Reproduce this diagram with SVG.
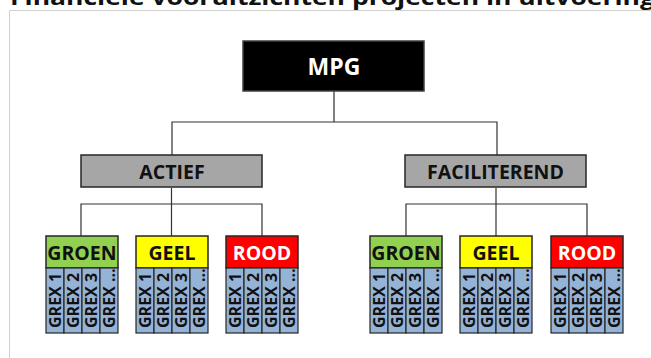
<svg xmlns="http://www.w3.org/2000/svg" width="651" height="358" viewBox="0 0 651 358">
<style>
  .lbl{font-family:"Open Sans","Noto Sans",sans-serif;font-weight:bold;text-anchor:middle}
  .grex{font-family:"Open Sans","Noto Sans",sans-serif;font-weight:bold;font-size:16px;fill:#111}
  .box{stroke:#262626;stroke-width:1.5}
  .col{fill:#95B3D7;stroke:#262626;stroke-width:1.2}
  .conn{stroke:#333;stroke-width:1.2;fill:none}
</style>
<defs>
  <g id="grexset">
    <rect class="col" x="0" y="0" width="18" height="65"/>
    <rect class="col" x="18" y="0" width="18" height="65"/>
    <rect class="col" x="36" y="0" width="18" height="65"/>
    <rect class="col" x="54" y="0" width="18" height="65"/>
    <text class="grex" transform="translate(14.5,60) rotate(-90)">GREX 1</text>
    <text class="grex" transform="translate(32.5,60) rotate(-90)">GREX 2</text>
    <text class="grex" transform="translate(50.5,60) rotate(-90)">GREX 3</text>
    <text class="grex" transform="translate(68.5,60) rotate(-90)">GREX …</text>
  </g>
</defs>
<rect x="0" y="0" width="651" height="358" fill="#fff"/>
<text x="10" y="5" font-family="'Open Sans','Noto Sans',sans-serif" font-weight="bold" font-size="22" fill="#111" textLength="645" lengthAdjust="spacingAndGlyphs">Financiële vooruitzichten projecten in uitvoering</text>
<path d="M9.5 358 V10.5 H651" fill="none" stroke="#d0d0d0" stroke-width="1"/>

<g id="connectors">
  <line x1="334" y1="91" x2="334" y2="122" stroke="#808080" stroke-width="2"/>
  <path class="conn" d="M172 155 V122 H497 V155"/>
  <path class="conn" d="M171.5 188 V236 M81 236 V204 H262 V236"/>
  <path class="conn" d="M496 188 V236 M406 236 V204 H587 V236"/>
</g>

<g id="mpg">
  <rect x="243" y="41" width="181" height="50" fill="#000" stroke="#404040" stroke-width="1.5"/>
  <text class="lbl" x="334" y="75" font-size="23" fill="#fff">MPG</text>
</g>
<g id="actief">
  <rect class="box" x="81" y="155" width="181" height="32" fill="#A6A6A6"/>
  <text class="lbl" x="172" y="179" font-size="19.5" fill="#111">ACTIEF</text>
</g>
<g id="faciliterend">
  <rect class="box" x="405" y="155" width="181" height="32" fill="#A6A6A6"/>
  <text class="lbl" x="495.5" y="179" font-size="19.5" fill="#111">FACILITEREND</text>
</g>

<g id="actief-groen">
  <rect class="box" x="46" y="236" width="72" height="32" fill="#92D050"/>
  <text class="lbl" x="82" y="260" font-size="19.5" fill="#111">GROEN</text>
  <use href="#grexset" x="46" y="268"/>
</g>
<g id="actief-geel">
  <rect class="box" x="136" y="236" width="72" height="32" fill="#FFFF00"/>
  <text class="lbl" x="172" y="260" font-size="19.5" fill="#111">GEEL</text>
  <use href="#grexset" x="136" y="268"/>
</g>
<g id="actief-rood">
  <rect class="box" x="226" y="236" width="72" height="32" fill="#FF0000"/>
  <text class="lbl" x="262" y="260" font-size="19.5" fill="#fff">ROOD</text>
  <use href="#grexset" x="226" y="268"/>
</g>

<g id="fac-groen">
  <rect class="box" x="370" y="236" width="72" height="32" fill="#92D050"/>
  <text class="lbl" x="406" y="260" font-size="19.5" fill="#111">GROEN</text>
  <use href="#grexset" x="370" y="268"/>
</g>
<g id="fac-geel">
  <rect class="box" x="460" y="236" width="72" height="32" fill="#FFFF00"/>
  <text class="lbl" x="496" y="260" font-size="19.5" fill="#111">GEEL</text>
  <use href="#grexset" x="460" y="268"/>
</g>
<g id="fac-rood">
  <rect class="box" x="551" y="236" width="72" height="32" fill="#FF0000"/>
  <text class="lbl" x="587" y="260" font-size="19.5" fill="#fff">ROOD</text>
  <use href="#grexset" x="551" y="268"/>
</g>
</svg>
